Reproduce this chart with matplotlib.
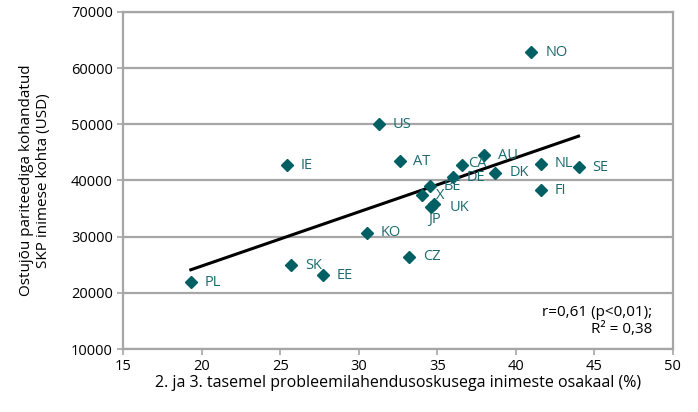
import numpy as np
import matplotlib
matplotlib.use("Agg")
import matplotlib.pyplot as plt

countries = ["PL", "SK", "EE", "IE", "KO", "US", "CZ", "AT", "X", "BE",
             "JP", "UK", "DE", "CA", "AU", "DK", "NO", "NL", "FI", "SE"]
skill_share = [19.3, 25.7, 27.7, 25.4, 30.5, 31.3, 33.2, 32.6, 34.0, 34.55,
               34.6, 34.8, 36.0, 36.6, 38.0, 38.7, 41.0, 41.6, 41.6, 44.0]
gdp_ppp = [21900, 24900, 23100, 42700, 30700, 50000, 26400, 43400, 37400, 39000,
           35200, 35900, 40600, 42800, 44500, 41350, 62850, 43000, 38300, 42400]

x_ticks = [15, 20, 25, 30, 35, 40, 45, 50]
y_ticks = [10000, 20000, 30000, 40000, 50000, 60000, 70000]

x_label = "2. ja 3. tasemel probleemilahendusoskusega inimeste osakaal (%)"
y_label = "Ostujõu pariteediga kohandatud\nSKP inimese kohta (USD)"
stats_text = "r=0,61 (p<0,01);\nR² = 0,38"

# label offsets (points) — default to the right of marker
default_offset = (10, 0)
special_offsets = {"JP": (-2, -9), "CA": (4, 1), "UK": (11, -3)}

plt.rcParams['font.family'] = ['Open Sans', 'DejaVu Sans']

fig = plt.figure(figsize=(6.98, 4.12), dpi=100)
ax = fig.add_axes([0.1767, 0.1529, 0.9638 - 0.1767, 0.9709 - 0.1529])

grid_col = "#a6a6a6"
teal = "#005f63"

ax.set_xlim(15, 50)
ax.set_ylim(10000, 70000)
ax.set_xticks(x_ticks)
ax.set_yticks(y_ticks)
ax.set_yticklabels([str(v) for v in y_ticks])
ax.yaxis.grid(True, color=grid_col, linewidth=1.6)
ax.set_axisbelow(True)
for s in ax.spines.values():
    s.set_color(grid_col)
    s.set_linewidth(1.6)
ax.tick_params(axis='both', colors=grid_col, labelcolor="#000000",
               labelsize=10.5, width=1.2, length=4)
ax.tick_params(axis='x', pad=3)

x = np.array(skill_share)
y = np.array(gdp_ppp)
slope, intercept = np.polyfit(x, y, 1)
xs = np.array([x.min(), x.max()])
ax.plot(xs, slope * xs + intercept, color="black", linewidth=2.2, zorder=3)

ax.plot(x, y, linestyle="none", marker="D", markersize=5.8, color=teal, zorder=4)

for c, xi, yi in zip(countries, skill_share, gdp_ppp):
    off = special_offsets.get(c, default_offset)
    ax.annotate(c, (xi, yi), xytext=off, textcoords="offset points",
                ha="left", va="center", fontsize=10.5, color="#1b6b70", zorder=5)

ax.text(0.962, 0.035, stats_text, transform=ax.transAxes, ha="right", va="bottom",
        fontsize=11, linespacing=1.2)

ax.set_xlabel(x_label, fontsize=11.5, labelpad=1)
ax.set_ylabel(y_label, fontsize=11, labelpad=14, linespacing=1.2)

fig.savefig("out.png", dpi=100)
